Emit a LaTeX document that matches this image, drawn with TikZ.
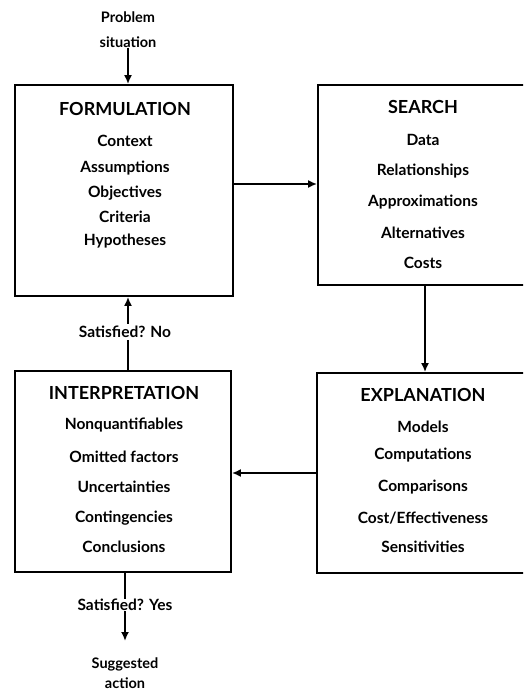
\documentclass[tikz,border=0pt]{standalone}
\usepackage{fontspec}
\setmainfont{Lato}
\usetikzlibrary{arrows.meta}
\begin{document}
\begin{tikzpicture}[x=1pt,y=-1pt,
  box/.style={draw,line width=1.8pt,minimum width=#1,inner sep=0pt},
  txt/.style={font=\fontsize{15.5}{17}\selectfont\bfseries,inner sep=0pt,anchor=center},
  ttl/.style={font=\fontsize{18}{20}\selectfont\bfseries,inner sep=0pt,anchor=center},
  sm/.style={font=\fontsize{14.5}{16}\selectfont\bfseries,inner sep=0pt,anchor=center},
  arr/.style={line width=1.8pt,-{Latex[length=9pt,width=8pt]}},
  ln/.style={line width=1.8pt}]
\clip (0,0) rectangle (523,692);
\useasboundingbox (0,0) rectangle (523,692);
% boxes
\node[box=218pt,minimum height=211pt] (form) at (124,190.5) {};
\node[box=242pt,minimum height=200pt] (search) at (439,185) {};
\node[box=243pt,minimum height=200pt] (expl) at (438.5,473) {};
\node[box=216pt,minimum height=201pt] (interp) at (123,471.5) {};
% formulation text
\node[ttl] (f0) at (125,109) {FORMULATION};
\node[txt] (f1) at (125,141) {Context};
\node[txt] (f2) at (125,168) {Assumptions};
\node[txt] (f3) at (125,193) {Objectives};
\node[txt] (f4) at (125,217) {Criteria};
\node[txt] (f5) at (125,241) {Hypotheses};
% search text
\node[ttl] (s0) at (423,107) {SEARCH};
\node[txt] (s1) at (423,140) {Data};
\node[txt] (s2) at (423,171) {Relationships};
\node[txt] (s3) at (423,202) {Approximations};
\node[txt] (s4) at (423,233) {Alternatives};
\node[txt] (s5) at (423,263) {Costs};
% explanation text
\node[ttl] (e0) at (423,395) {EXPLANATION};
\node[txt] (e1) at (423,427) {Models};
\node[txt] (e2) at (423,455) {Computations};
\node[txt] (e3) at (423,487) {Comparisons};
\node[txt] (e4) at (423,518) {Cost/Effectiveness};
\node[txt] (e5) at (423,547) {Sensitivities};
% interpretation text
\node[ttl] (i0) at (124,393) {INTERPRETATION};
\node[txt] (i1) at (124,425) {Nonquantifiables};
\node[txt] (i2) at (124,457) {Omitted factors};
\node[txt] (i3) at (124,487) {Uncertainties};
\node[txt] (i4) at (124,518) {Contingencies};
\node[txt] (i5) at (124,547) {Conclusions};
% outside labels
\node[sm] (p1) at (128,17) {Problem};
\node[sm] (p2) at (128,42) {situation};
\node[txt,fill=white,inner sep=2pt] (no) at (125,332) {Satisfied? No};
\node[txt] (yes) at (125,605) {Satisfied? Yes};
\coordinate (tip) at (125,641);
\node[sm] (sg1) at (125,664) {Suggested};
\node[sm] (sg2) at (125,683) {action};
\coordinate (rowA) at (0,184);
\coordinate (rowB) at (0,473);
\coordinate (colC) at (425,0);
% connectors
\draw[arr] (p2.south) -- (p2.south |- form.north);
\draw[arr] (form.east |- rowA) -- (search.west |- rowA);
\draw[arr] (colC |- search.south) -- (colC |- expl.north);
\draw[arr] (expl.west |- rowB) -- (interp.east |- rowB);
\draw[ln] (interp.north -| p2.south) -- (no.south -| p2.south);
\draw[arr] (no.north -| p2.south) -- (form.south -| p2.south);
\draw[ln] (interp.south -| yes) -- (yes.north);
\draw[arr] (yes.south) -- (tip);
\end{tikzpicture}
\end{document}
